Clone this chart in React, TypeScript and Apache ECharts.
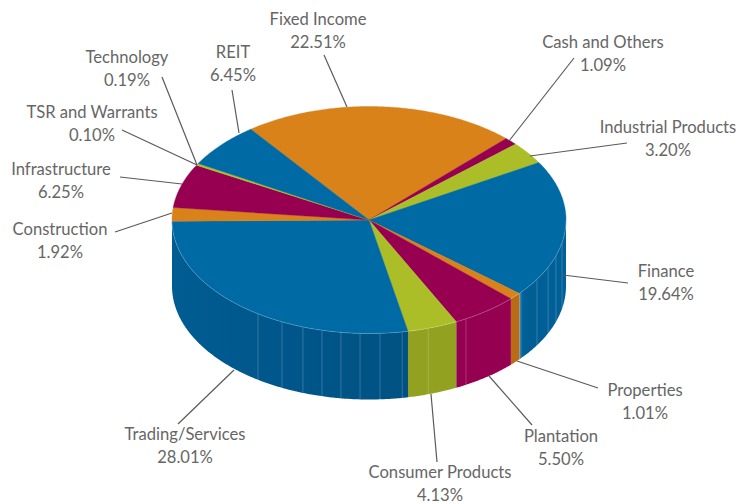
import React, { useEffect, useRef } from "react";
import * as echarts from "echarts";

const categories = ["Fixed Income","Cash and Others","Industrial Products","Finance","Properties","Plantation","Consumer Products","Trading/Services","Construction","Infrastructure","TSR and Warrants","Technology","REIT"];
const shares = [22.51,1.09,3.2,19.64,1.01,5.5,4.13,28.01,1.92,6.25,0.1,0.19,6.45];
const shareLabels = ["22.51%","1.09%","3.20%","19.64%","1.01%","5.50%","4.13%","28.01%","1.92%","6.25%","0.10%","0.19%","6.45%"];

const BLUE = "#006AA5", ORANGE = "#D98219", MAGENTA = "#970050", GREEN = "#ABBD27";
const topColors = [ORANGE, MAGENTA, GREEN, BLUE, ORANGE, MAGENTA, GREEN, BLUE, ORANGE, MAGENTA, GREEN, GREEN, BLUE];
const sideStops: any = {
  3: [[0, "#006099"], [0.82, "#005E94"], [0.93, "#00639A"], [1, "#5E93AD"]],
  4: [[0, "#B96C14"], [1, "#B96C14"]],
  5: [[0, "#960050"], [1, "#960050"]],
  6: [[0, "#93A120"], [1, "#93A120"]],
  7: [[0, "#005282"], [0.5, "#00568A"], [1, "#005C92"]],
};
const facetAngles = [101.5,108.4,114.6,121.5,150.5,162.5,170.3,176.8,182.6,188.2,193.8,199.6,206.2,214.3];
const facetColor = "rgba(255,255,255,0.2)";

const CX = 369, CY = 220, RX = 197, RY = 113.5, DEPTH = 66, START = -36.9;
const labelPos = [[318,30],[603,53],[668,138],[666,282],[645,401],[561,447],[440,483],[185,445],[60,240],[61,180],[92,123],[127,68],[233,63]];
const leaders = [[324,55,347,107],[574,58,509,141],[627,143,530,156],[628,283,563,275],[598,388,517,361],[532,425,489,376],[437,462,431,394],[178,424,234,370],[115,232,172,213],[120,177,182,184],[122,130,197,165],[162,77,197,165],[232,90,239,133]];

const total = shares.reduce((a, b) => a + b, 0);
const startAngles: number[] = [];
shares.reduce((acc, v, i) => { startAngles[i] = acc; return acc + (v / total) * 360; }, START);

const rim = (deg: number, dy = 0): number[] => {
  const t = (deg * Math.PI) / 180;
  return [CX + RX * Math.sin(t), CY - RY * Math.cos(t) + dy];
};
const arc = (a: number, b: number, dy = 0): number[][] => {
  const n = Math.max(2, Math.ceil(Math.abs(b - a) * 2));
  return Array.from({ length: n + 1 }, (_, i) => rim(a + ((b - a) * i) / n, dy));
};

export default function App() {
  const ref = useRef<HTMLDivElement>(null);
  useEffect(() => {
    document.body.style.margin = "0";
    const chart = echarts.init(ref.current!, undefined, { renderer: "svg" });
    const font = "16.6px 'Lato', sans-serif";
    const data = shares.map((v, i) => ({ name: categories[i], value: [v, i] }));
    chart.setOption({
      animation: false,
      backgroundColor: "#fff",
      series: [
        {
          type: "custom", coordinateSystem: "none", silent: true, data, z: 1,
          renderItem: (_: any, api: any) => {
            const i = api.value(1);
            const a = startAngles[i], b = a + (api.value(0) / total) * 360;
            const lo = Math.max(a, 90), hi = Math.min(b, 270);
            if (hi <= lo) return { type: "group", children: [] };
            const stops = sideStops[i] || [[0, topColors[i]], [1, topColors[i]]];
            const fill = new echarts.graphic.LinearGradient(1, 0, 0, 0, stops.map((s: any) => ({ offset: s[0], color: s[1] })));
            const poly = [...arc(lo, hi), ...arc(hi, lo, DEPTH)];
            const lines = facetAngles.filter((f) => f > lo && f < hi).map((f) => {
              const p = rim(f), q = rim(f, DEPTH);
              return { type: "line", shape: { x1: p[0], y1: p[1], x2: q[0], y2: q[1] }, style: { stroke: facetColor, lineWidth: 1 } };
            });
            return { type: "group", children: [{ type: "polygon", shape: { points: poly }, style: { fill } }, ...lines] };
          },
        },
        {
          type: "custom", coordinateSystem: "none", silent: true, data, z: 2,
          renderItem: (_: any, api: any) => {
            const i = api.value(1);
            const a = startAngles[i], b = a + (api.value(0) / total) * 360;
            const children: any[] = [{
              type: "polygon",
              shape: { points: [[CX, CY], ...arc(a, b)] },
              style: { fill: topColors[i], stroke: topColors[i], lineWidth: 0.4 },
            }];
            const lo = Math.max(a, 90), hi = Math.min(b, 270);
            if (hi > lo) children.push({
              type: "polyline", shape: { points: arc(lo, hi) },
              style: { fill: "none", stroke: "rgba(255,255,255,0.25)", lineWidth: 0.8 },
            });
            return { type: "group", children };
          },
        },
        {
          type: "custom", coordinateSystem: "none", silent: true, data, z: 3,
          renderItem: (_: any, api: any) => {
            const i = api.value(1);
            const l = leaders[i], p = labelPos[i];
            return {
              type: "group",
              children: [
                { type: "line", shape: { x1: l[0], y1: l[1], x2: l[2], y2: l[3] }, style: { stroke: "#5A5A5A", lineWidth: 1.2 } },
                {
                  type: "text",
                  style: { text: categories[i] + "\n" + shareLabels[i], x: p[0], y: p[1], align: "center", verticalAlign: "middle", font, fill: "#666", lineHeight: 23 },
                },
              ],
            };
          },
        },
      ],
    });
    return () => chart.dispose();
  }, []);
  return <div ref={ref} style={{ position: "absolute", left: 0, top: 0, width: 741, height: 504 }} />;
}
